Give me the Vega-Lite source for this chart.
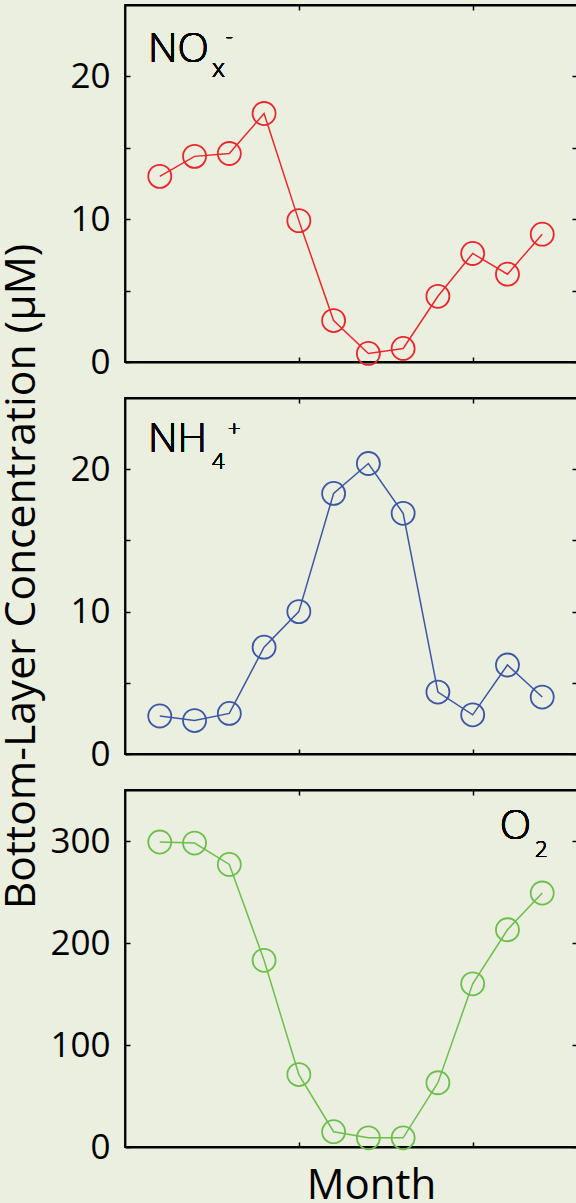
{
  "$schema": "https://vega.github.io/schema/vega-lite/v6.json",
  "background": "#ebefdf",
  "padding": {"left": 0, "top": 3, "right": 0, "bottom": 0},
  "spacing": 36,
  "bounds": "flush",
  "config": {
    "view": {"stroke": "#000000", "strokeWidth": 1.8, "fill": "#ebefdf"},
    "axis": {
      "grid": false,
      "domainColor": "#000000",
      "domainWidth": 1.8,
      "tickColor": "#000000",
      "tickWidth": 1.5,
      "tickSize": -5,
      "labelFont": "Open Sans",
      "labelFontSize": 35,
      "labelColor": "#000000",
      "labelPadding": 20,
      "titleFont": "Open Sans",
      "titleFontWeight": "normal",
      "titleColor": "#000000"
    },
    "text": {"font": "Open Sans", "color": "#000000", "fontWeight": 300}
  },
  "datasets": {
    "nox": [
      {"month": 1, "value": 13.0}, {"month": 2, "value": 14.4}, {"month": 3, "value": 14.6},
      {"month": 4, "value": 17.4}, {"month": 5, "value": 9.9}, {"month": 6, "value": 2.9},
      {"month": 7, "value": 0.6}, {"month": 8, "value": 0.95}, {"month": 9, "value": 4.6},
      {"month": 10, "value": 7.6}, {"month": 11, "value": 6.15}, {"month": 12, "value": 8.95}
    ],
    "nh4": [
      {"month": 1, "value": 2.67}, {"month": 2, "value": 2.35}, {"month": 3, "value": 2.85},
      {"month": 4, "value": 7.5}, {"month": 5, "value": 10.0}, {"month": 6, "value": 18.3},
      {"month": 7, "value": 20.4}, {"month": 8, "value": 16.9}, {"month": 9, "value": 4.35},
      {"month": 10, "value": 2.75}, {"month": 11, "value": 6.25}, {"month": 12, "value": 4.0}
    ],
    "o2": [
      {"month": 1, "value": 299}, {"month": 2, "value": 298}, {"month": 3, "value": 277},
      {"month": 4, "value": 183}, {"month": 5, "value": 71}, {"month": 6, "value": 15},
      {"month": 7, "value": 9}, {"month": 8, "value": 9}, {"month": 9, "value": 63},
      {"month": 10, "value": 160}, {"month": 11, "value": 213}, {"month": 12, "value": 249}
    ]
  },
  "vconcat": [
    {
      "width": 452, "height": 357,
      "data": {"name": "nox"},
      "layer": [
        {
          "mark": {"type": "line", "color": "#e8282d", "strokeWidth": 1.5},
          "encoding": {
            "x": {"field": "month", "type": "quantitative", "scale": {"domain": [0, 13], "nice": false},
              "axis": {"orient": "bottom", "values": [5, 10], "labels": false, "title": null}},
            "y": {"field": "value", "type": "quantitative", "scale": {"domain": [0, 25], "nice": false},
              "axis": {"orient": "left", "values": [0, 5, 10, 15, 20], "labelExpr": "datum.value % 10 === 0 ? datum.label : ''", "title": null}}
          }
        },
        {
          "mark": {"type": "point", "shape": "circle", "filled": false, "size": 530, "strokeWidth": 1.8, "color": "#e8282d", "opacity": 1},
          "encoding": {
            "x": {"field": "month", "type": "quantitative", "axis": {"orient": "top", "values": [5, 10], "labels": false, "title": null}},
            "y": {"field": "value", "type": "quantitative", "axis": {"orient": "right", "values": [0, 5, 10, 15, 20], "labels": false, "title": null}}
          }
        },
        {
          "mark": {"type": "text", "text": "NO", "fontSize": 41, "fontWeight": 300, "align": "left", "baseline": "alphabetic"},
          "encoding": {"x": {"datum": 0.66, "axis": null}, "y": {"datum": 21.0, "axis": null}}
        },
        {
          "mark": {"type": "text", "text": "x", "fontSize": 26, "fontWeight": 300, "align": "left", "baseline": "alphabetic"},
          "encoding": {"x": {"datum": 2.5, "axis": null}, "y": {"datum": 19.93, "axis": null}}
        },
        {
          "mark": {"type": "text", "text": "-", "fontSize": 22, "fontWeight": 300, "align": "left", "baseline": "alphabetic"},
          "encoding": {"x": {"datum": 2.9, "axis": null}, "y": {"datum": 22.3, "axis": null}}
        }
      ],
      "resolve": {"axis": {"x": "independent", "y": "independent"}}
    },
    {
      "width": 452, "height": 356,
      "data": {"name": "nh4"},
      "layer": [
        {
          "mark": {"type": "line", "color": "#3c56a6", "strokeWidth": 1.5},
          "encoding": {
            "x": {"field": "month", "type": "quantitative", "scale": {"domain": [0, 13], "nice": false},
              "axis": {"orient": "bottom", "values": [5, 10], "labels": false, "title": null}},
            "y": {"field": "value", "type": "quantitative", "scale": {"domain": [0, 25], "nice": false},
              "axis": {"orient": "left", "values": [0, 5, 10, 15, 20], "labelExpr": "datum.value % 10 === 0 ? datum.label : ''",
                "title": "Bottom-Layer Concentration (μM)", "titleFontSize": 42.6, "titlePadding": 26}}
          }
        },
        {
          "mark": {"type": "point", "shape": "circle", "filled": false, "size": 530, "strokeWidth": 1.8, "color": "#3c56a6", "opacity": 1},
          "encoding": {
            "x": {"field": "month", "type": "quantitative", "axis": {"orient": "top", "values": [5, 10], "labels": false, "title": null}},
            "y": {"field": "value", "type": "quantitative", "axis": {"orient": "right", "values": [0, 5, 10, 15, 20], "labels": false, "title": null}}
          }
        },
        {
          "mark": {"type": "text", "text": "NH", "fontSize": 41, "fontWeight": 300, "align": "left", "baseline": "alphabetic"},
          "encoding": {"x": {"datum": 0.66, "axis": null}, "y": {"datum": 21.2, "axis": null}}
        },
        {
          "mark": {"type": "text", "text": "4", "fontSize": 22, "fontWeight": 300, "align": "left", "baseline": "alphabetic"},
          "encoding": {"x": {"datum": 2.5, "axis": null}, "y": {"datum": 20.0, "axis": null}}
        },
        {
          "mark": {"type": "text", "text": "+", "fontSize": 22, "fontWeight": 300, "align": "left", "baseline": "alphabetic"},
          "encoding": {"x": {"datum": 2.96, "axis": null}, "y": {"datum": 22.35, "axis": null}}
        }
      ],
      "resolve": {"axis": {"x": "independent", "y": "independent"}}
    },
    {
      "width": 452, "height": 357,
      "data": {"name": "o2"},
      "layer": [
        {
          "mark": {"type": "line", "color": "#6cbf4d", "strokeWidth": 1.5},
          "encoding": {
            "x": {"field": "month", "type": "quantitative", "scale": {"domain": [0, 13], "nice": false},
              "axis": {"orient": "bottom", "values": [5, 10], "labels": false, "title": "Month", "titleFontSize": 42, "titleX": 246, "titlePadding": 18}},
            "y": {"field": "value", "type": "quantitative", "scale": {"domain": [0, 350], "nice": false},
              "axis": {"orient": "left", "values": [0, 100, 200, 300], "title": null}}
          }
        },
        {
          "mark": {"type": "point", "shape": "circle", "filled": false, "size": 530, "strokeWidth": 1.8, "color": "#6cbf4d", "opacity": 1},
          "encoding": {
            "x": {"field": "month", "type": "quantitative", "axis": {"orient": "top", "values": [5, 10], "labels": false, "title": null}},
            "y": {"field": "value", "type": "quantitative", "axis": {"orient": "right", "values": [0, 100, 200, 300], "labels": false, "title": null}}
          }
        },
        {
          "mark": {"type": "text", "text": "O", "fontSize": 41, "fontWeight": 300, "align": "left", "baseline": "alphabetic"},
          "encoding": {"x": {"datum": 10.78, "axis": null}, "y": {"datum": 302, "axis": null}}
        },
        {
          "mark": {"type": "text", "text": "2", "fontSize": 22, "fontWeight": 300, "align": "left", "baseline": "alphabetic"},
          "encoding": {"x": {"datum": 11.79, "axis": null}, "y": {"datum": 284, "axis": null}}
        }
      ],
      "resolve": {"axis": {"x": "independent", "y": "independent"}}
    }
  ]
}
